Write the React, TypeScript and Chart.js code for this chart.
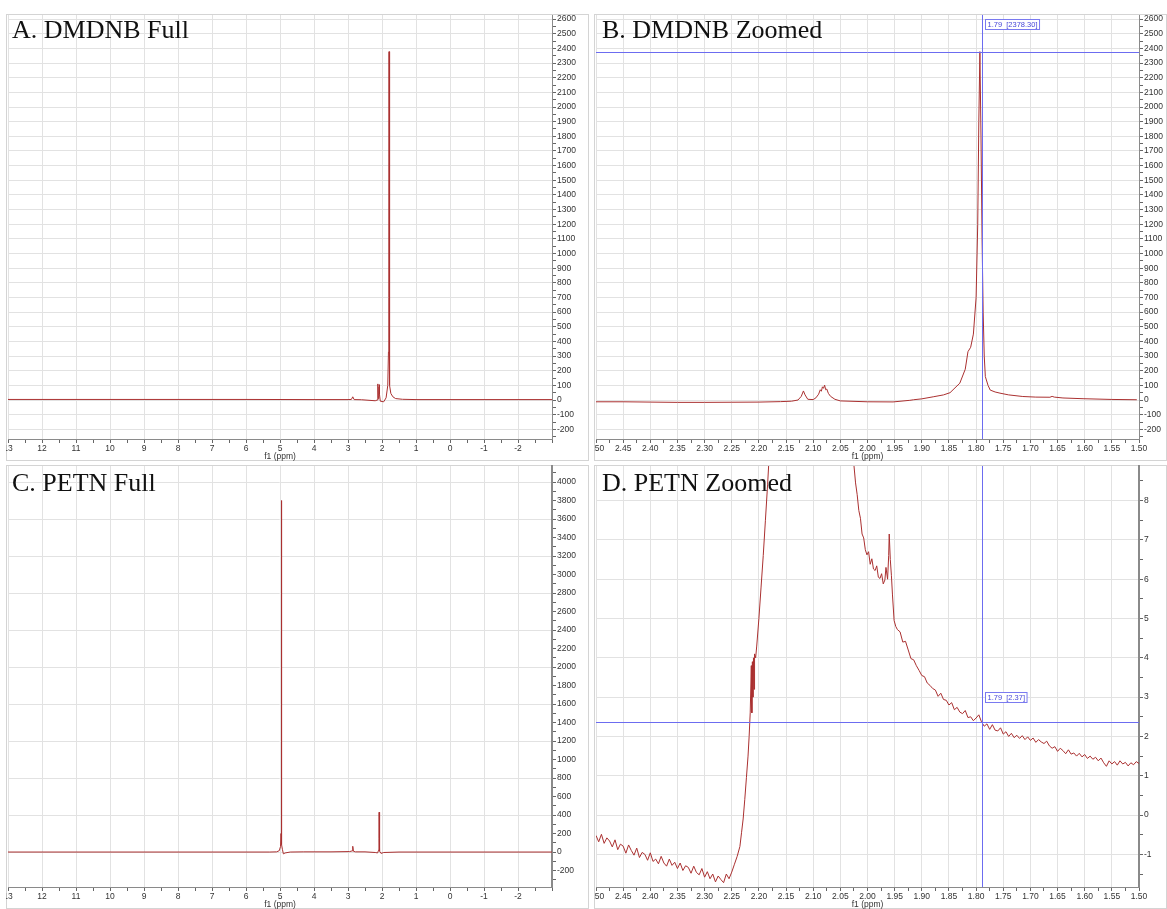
import React, { useEffect, useRef } from "react";
import { Chart, registerables } from "chart.js";

Chart.register(...registerables);

// ---------- Panel A: DMDNB full spectrum ----------
const dmdnbFullPpm = [13, 9, 6, 4, 3.0, 2.9, 2.86, 2.82, 2.6, 2.2, 2.14, 2.125, 2.118, 2.11, 2.095, 2.085, 2.079, 2.07, 2.05, 1.95, 1.88, 1.83, 1.81, 1.8, 1.793, 1.785, 1.77, 1.74, 1.68, 1.6, 1.4, 1.0, 0, -3];
const dmdnbFullInt = [4, 4, 4, 3, 3, 4, 22, 3, 2, -5, 0, 30, 110, 10, 30, 90, 105, 40, -8, -12, 15, 100, 330, 700, 2378, 400, 100, 45, 22, 10, 5, 3, 3, 3];

// ---------- Panel B: DMDNB zoomed ----------
const dmdnbZoomPpm = [2.5, 2.45, 2.4, 2.35, 2.3, 2.25, 2.2, 2.16, 2.14, 2.128, 2.122, 2.118, 2.115, 2.11, 2.1, 2.095, 2.09, 2.087, 2.085, 2.083, 2.081, 2.079, 2.077, 2.075, 2.072, 2.068, 2.06, 2.05, 2.0, 1.953, 1.922, 1.915, 1.9, 1.879, 1.86, 1.848, 1.83, 1.82, 1.815, 1.81, 1.805, 1.8, 1.797, 1.795, 1.793, 1.791, 1.789, 1.787, 1.785, 1.783, 1.778, 1.774, 1.765, 1.756, 1.74, 1.714, 1.69, 1.664, 1.66, 1.656, 1.64, 1.603, 1.55, 1.504];
const dmdnbZoomInt = [-12, -12, -14, -16, -16, -15, -14, -11, -8, 0, 25, 62, 35, 5, 3, 15, 40, 70, 60, 90, 80, 102, 70, 75, 45, 25, 5, -6, -12, -13, -2, 2, 8, 22, 35, 50, 115, 210, 330, 360, 450, 700, 1200, 1900, 2378, 1800, 1100, 600, 300, 160, 100, 68, 55, 47, 35, 24, 20, 19, 25, 20, 14, 9, 4, 2];

// ---------- Panel C: PETN full spectrum ----------
const petnFullPpm = [13, 8, 6, 5.3, 5.1, 5.02, 4.985, 4.97, 4.962, 4.955, 4.945, 4.93, 4.9, 4.85, 4.7, 4.3, 3.5, 2.95, 2.88, 2.86, 2.84, 2.78, 2.5, 2.2, 2.13, 2.1, 2.09, 2.085, 2.08, 2.075, 2.06, 2.03, 1.95, 1.5, 0, -3];
const petnFullInt = [0, 0, 0, 0, 2, 15, 60, 200, 3800, 220, 80, 30, -20, -10, 0, 2, 2, 5, 12, 62, 8, 2, 2, -5, -10, 20, 150, 430, 300, 60, 10, -15, -5, 0, 0, 0];

// ---------- Panel D: PETN zoomed ----------
const petnZoomPpm = [
  2.5, 2.495, 2.49, 2.485, 2.48, 2.475, 2.47, 2.465, 2.46, 2.455, 2.45, 2.445, 2.44, 2.435, 2.43, 2.425, 2.42, 2.415, 2.41, 2.405,
  2.4, 2.395, 2.39, 2.385, 2.38, 2.375, 2.37, 2.365, 2.36, 2.355, 2.35, 2.345, 2.34, 2.335, 2.33, 2.325, 2.32, 2.315, 2.31, 2.305,
  2.3, 2.295, 2.29, 2.285, 2.28, 2.275, 2.27, 2.265, 2.26, 2.255, 2.25, 2.245, 2.24, 2.235, 2.232, 2.229, 2.226, 2.223, 2.22, 2.218,
  2.216, 2.214, 2.213, 2.212, 2.211, 2.21, 2.209, 2.208, 2.206, 2.204, 2.2, 2.196, 2.192, 2.188, 2.184, 2.18, 2.17, 2.15, 2.06, 2.03,
  2.025, 2.022, 2.019, 2.016, 2.013, 2.01, 2.007, 2.004, 2.001, 1.998, 1.995, 1.992, 1.989, 1.986, 1.983, 1.98, 1.977, 1.974, 1.971, 1.968,
  1.966, 1.963, 1.961, 1.96, 1.958, 1.956, 1.954, 1.951, 1.948, 1.945, 1.94, 1.935, 1.93, 1.925, 1.92, 1.915, 1.91, 1.905, 1.9, 1.895,
  1.89, 1.885, 1.88, 1.875, 1.87, 1.865, 1.86, 1.855, 1.85, 1.845, 1.84, 1.835, 1.83, 1.825, 1.82, 1.815, 1.81, 1.805, 1.8, 1.795,
  1.79, 1.785, 1.78, 1.775, 1.77, 1.765, 1.76, 1.755, 1.75, 1.745, 1.74, 1.735, 1.73, 1.725, 1.72, 1.715, 1.71, 1.705, 1.7, 1.695,
  1.69, 1.685, 1.68, 1.675, 1.67, 1.665, 1.66, 1.655, 1.65, 1.645, 1.64, 1.635, 1.63, 1.625, 1.62, 1.615, 1.61, 1.605, 1.6, 1.595,
  1.59, 1.585, 1.58, 1.575, 1.57, 1.565, 1.56, 1.555, 1.55, 1.545, 1.54, 1.535, 1.53, 1.525, 1.52, 1.515, 1.51, 1.505, 1.5
];
const petnZoomInt = [
  -0.52, -0.68, -0.49, -0.72, -0.58, -0.66, -0.81, -0.63, -0.88, -0.74, -0.79, -0.97, -0.76, -0.9, -1.02, -0.84, -1.08, -0.95, -1.0, -1.15,
  -0.96, -1.18, -1.12, -1.24, -1.05, -1.22, -1.3, -1.12, -1.28, -1.2, -1.36, -1.22, -1.41, -1.29, -1.33, -1.48, -1.3, -1.46, -1.52, -1.36,
  -1.58, -1.44, -1.62, -1.5, -1.7, -1.55, -1.64, -1.72, -1.5, -1.62, -1.45, -1.25, -1.05, -0.8, -0.45, -0.1, 0.4, 0.95, 1.5, 2.0,
  2.6, 3.8, 2.6, 3.9, 3.0, 4.0, 3.2, 4.1, 4.0, 4.3, 5.0, 5.8, 6.6, 7.5, 8.4, 9.4, 12, 15, 15, 9.6,
  8.9, 8.45, 8.15, 7.75, 7.55, 7.15, 7.05, 6.75, 6.62, 6.7, 6.38, 6.52, 6.26, 6.22, 6.34, 6.05, 6.02, 6.14, 5.88, 5.98,
  6.3, 6.0, 6.6, 7.15, 6.5, 6.1, 5.6, 4.95, 4.8, 4.72, 4.66, 4.4, 4.42, 4.2, 3.98, 3.95, 3.8, 3.68, 3.55, 3.52,
  3.36, 3.3, 3.22, 3.18, 3.02, 3.1, 2.94, 2.92, 2.8, 2.86, 2.68, 2.74, 2.62, 2.58, 2.66, 2.48, 2.5, 2.4, 2.47, 2.55,
  2.37, 2.26, 2.32, 2.18, 2.3, 2.16, 2.14, 2.22, 2.06, 2.12, 2.0, 2.08, 1.97, 2.03, 1.95, 2.02, 1.92, 1.99, 1.9, 1.96,
  1.85, 1.92, 1.86, 1.82, 1.88, 1.76, 1.7, 1.74, 1.62, 1.7, 1.64, 1.56, 1.66, 1.55, 1.58, 1.5, 1.57, 1.48, 1.54, 1.44,
  1.5, 1.42, 1.47, 1.38, 1.45, 1.33, 1.24, 1.38, 1.3, 1.36, 1.27, 1.38, 1.3, 1.34, 1.25, 1.33, 1.28, 1.36, 1.31
];

// ---------- Cursor readouts ----------
const dmdnbCursor = { ppm: 1.79, value: 2378.3, label: "1.79  [2378.30]" };
const petnCursor = { ppm: 1.79, value: 2.37, label: "1.79  [2.37]" };

const GRID = "#e2e2e2";
const LINE = "#aa3030";
const TICK_FONT = { family: "'Liberation Sans', Arial, sans-serif", size: 8.5 };

function isMult(v: number, step: number) {
  const r = v / step;
  return Math.abs(r - Math.round(r)) < 1e-6;
}

const cursorPlugin = {
  id: "cursor",
  afterDatasetsDraw(chart: any, _args: any, opts: any) {
    if (!opts || opts.ppm === undefined) return;
    const { ctx, chartArea, scales } = chart;
    const x = Math.round(scales.x.getPixelForValue(opts.ppm)) + 0.5;
    const y = Math.round(scales.y.getPixelForValue(opts.value)) + 0.5;
    ctx.save();
    ctx.strokeStyle = "#6c6cf0";
    ctx.lineWidth = 1;
    ctx.beginPath();
    ctx.moveTo(x, chartArea.top);
    ctx.lineTo(x, chartArea.bottom);
    ctx.moveTo(chartArea.left, y);
    ctx.lineTo(chartArea.right, y);
    ctx.stroke();
    ctx.font = "7.5px 'Liberation Sans', Arial, sans-serif";
    const tw = ctx.measureText(opts.label).width;
    const ly = Math.round(scales.y.getPixelForValue(opts.labelAt)) + 0.5;
    const bx = x + 3;
    ctx.fillStyle = "#ffffff";
    ctx.fillRect(bx, ly, tw + 4, 10);
    ctx.strokeStyle = "#7a7af0";
    ctx.strokeRect(bx, ly, tw + 4, 10);
    ctx.fillStyle = "#4848d8";
    ctx.textBaseline = "middle";
    ctx.fillText(opts.label, bx + 2, ly + 5.5);
    ctx.restore();
  },
};

type PanelProps = {
  left: number;
  top: number;
  width: number;
  height: number;
  padLeft: number;
  padTop: number;
  yAxisWidth: number;
  xAxisHeight: number;
  ppm: number[];
  values: number[];
  xMin: number;
  xMax: number;
  xMinor: number;
  xMajor: number;
  xDecimals: number;
  hideXLabels: number[];
  yMin: number;
  yMax: number;
  yMinor: number;
  yMajor: number;
  yGrid: number;
  yBorderWidth: number;
  cursor?: { ppm: number; value: number; label: string; labelAt: number };
  title: string;
  titleLeft: number;
  titleTop: number;
};

function Panel(p: PanelProps) {
  const ref = useRef<HTMLCanvasElement | null>(null);
  useEffect(() => {
    if (!ref.current) return;
    const data = p.ppm.map((x, i) => ({ x, y: p.values[i] }));
    const chart = new Chart(ref.current, {
      type: "line",
      data: {
        datasets: [
          {
            data,
            borderColor: LINE,
            borderWidth: 1,
            pointRadius: 0,
            tension: 0,
            fill: false,
          },
        ],
      },
      plugins: [cursorPlugin],
      options: {
        animation: false,
        responsive: false,
        events: [],
        layout: { padding: { left: p.padLeft, top: p.padTop, right: 0, bottom: 0 } },
        plugins: {
          legend: { display: false },
          tooltip: { enabled: false },
          cursor: p.cursor || {},
        } as any,
        scales: {
          x: {
            type: "linear",
            min: p.xMin,
            max: p.xMax,
            reverse: true,
            afterFit: (s: any) => {
              s.height = p.xAxisHeight;
              s.paddingLeft = 0;
              s.paddingRight = 0;
            },
            ticks: {
              stepSize: p.xMinor,
              autoSkip: false,
              includeBounds: false,
              maxRotation: 0,
              minRotation: 0,
              padding: 1,
              color: "#333",
              font: TICK_FONT,
              callback: (v: any) => {
                const n = Number(v);
                if (!isMult(n, p.xMajor)) return "";
                if (p.hideXLabels.some((h) => Math.abs(h - n) < 1e-6)) return "";
                return n.toFixed(p.xDecimals);
              },
            },
            grid: {
              color: (c: any) => (c.tick && isMult(c.tick.value, p.xMajor) ? GRID : "rgba(0,0,0,0)"),
              tickColor: "#666",
              tickLength: 4,
              lineWidth: 1,
            },
            border: { display: true, color: "#8a8a8a", width: 1 },
            title: {
              display: true,
              text: "f1 (ppm)",
              color: "#333",
              font: TICK_FONT,
              padding: { top: 0, bottom: -1 },
            },
          } as any,
          y: {
            type: "linear",
            position: "right",
            min: p.yMin,
            max: p.yMax,
            afterFit: (s: any) => {
              s.width = p.yAxisWidth;
              s.paddingTop = 0;
              s.paddingBottom = 0;
            },
            ticks: {
              stepSize: p.yMinor,
              autoSkip: false,
              includeBounds: false,
              padding: 1,
              color: "#333",
              font: TICK_FONT,
              callback: (v: any) => {
                const n = Number(v);
                return isMult(n, p.yMajor) ? String(Math.round(n)) : "";
              },
            },
            grid: {
              color: (c: any) => (c.tick && isMult(c.tick.value, p.yGrid) ? GRID : "rgba(0,0,0,0)"),
              tickColor: "#666",
              tickLength: 4,
              lineWidth: 1,
            },
            border: { display: true, color: "#8a8a8a", width: p.yBorderWidth },
          } as any,
        },
      } as any,
    });
    return () => chart.destroy();
  }, []);

  return (
    <>
      <div
        style={{
          position: "absolute",
          left: p.left,
          top: p.top,
          width: p.width,
          height: p.height,
          boxSizing: "border-box",
          border: "1px solid #d4d4d4",
        }}
      />
      <canvas
        ref={ref}
        width={p.width}
        height={p.height}
        style={{ position: "absolute", left: p.left, top: p.top, width: p.width, height: p.height }}
      />
      <div
        style={{
          position: "absolute",
          left: p.titleLeft,
          top: p.titleTop,
          fontFamily: "'Liberation Serif', 'Times New Roman', serif",
          fontSize: 26,
          lineHeight: "26px",
          color: "#111",
          whiteSpace: "nowrap",
        }}
      >
        {p.title}
      </div>
    </>
  );
}

export default function App() {
  const top = { top: 14, height: 447, padTop: 1, xAxisHeight: 22 };
  const bottom = { top: 465, height: 444, padTop: 1, xAxisHeight: 22 };
  const left = { left: 6, width: 583, padLeft: 2, yAxisWidth: 37 };
  const right = { left: 594, width: 573, padLeft: 2, yAxisWidth: 28 };
  const fullX = { xMin: -3, xMax: 13, xMinor: 0.5, xMajor: 1, xDecimals: 0, hideXLabels: [-3] };
  const zoomX = { xMin: 1.5, xMax: 2.5, xMinor: 0.025, xMajor: 0.05, xDecimals: 2, hideXLabels: [] as number[] };
  return (
    <div style={{ position: "absolute", left: 0, top: 0, width: 1167, height: 909, background: "#fff", overflow: "hidden" }}>
      <Panel
        {...top}
        {...left}
        {...fullX}
        ppm={dmdnbFullPpm}
        values={dmdnbFullInt}
        yMin={-266}
        yMax={2628}
        yMinor={50}
        yMajor={100}
        yGrid={100}
        yBorderWidth={1}
        title="A. DMDNB Full"
        titleLeft={12}
        titleTop={17}
      />
      <Panel
        {...top}
        {...right}
        {...zoomX}
        ppm={dmdnbZoomPpm}
        values={dmdnbZoomInt}
        yMin={-266}
        yMax={2628}
        yMinor={50}
        yMajor={100}
        yGrid={100}
        yBorderWidth={1}
        cursor={{ ...dmdnbCursor, labelAt: 2600 }}
        title="B. DMDNB Zoomed"
        titleLeft={602}
        titleTop={17}
      />
      <Panel
        {...bottom}
        {...left}
        {...fullX}
        ppm={petnFullPpm}
        values={petnFullInt}
        yMin={-378}
        yMax={4173}
        yMinor={100}
        yMajor={200}
        yGrid={400}
        yBorderWidth={2}
        title="C. PETN Full"
        titleLeft={12}
        titleTop={470}
      />
      <Panel
        {...bottom}
        {...right}
        {...zoomX}
        ppm={petnZoomPpm}
        values={petnZoomInt}
        yMin={-1.83}
        yMax={8.88}
        yMinor={0.5}
        yMajor={1}
        yGrid={1}
        yBorderWidth={2}
        cursor={{ ...petnCursor, labelAt: 3.13 }}
        title="D. PETN Zoomed"
        titleLeft={602}
        titleTop={470}
      />
    </div>
  );
}
